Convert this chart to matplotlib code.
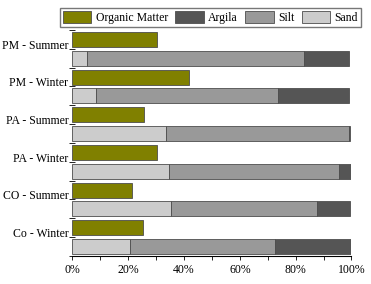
import numpy as np
import matplotlib
matplotlib.use('Agg')
from matplotlib import pyplot as plt
from matplotlib.ticker import PercentFormatter, MultipleLocator

sites = ['PM - Summer', 'PM - Winter', 'PA - Summer', 'PA - Winter', 'CO - Summer', 'Co - Winter']
organic = [30.2, 41.6, 25.7, 30.2, 21.2, 25.4]
sand = [5.1, 8.5, 33.6, 34.5, 35.4, 20.7]
silt = [77.9, 65.3, 65.6, 61.1, 52.3, 52.0]
argila = [16.1, 25.3, 0.4, 4.1, 11.6, 27.3]

plt.rcParams['font.family'] = ['Liberation Serif', 'DejaVu Serif']
plt.rcParams['font.size'] = 8.5

fig = plt.figure(figsize=(3.71, 2.84), dpi=100)
ax = fig.add_axes([0.1954, 0.0986, 0.752, 0.7958])

n = len(sites)
om_y = np.arange(n) * 2 + 0.5
soil_y = om_y + 1
edge = '#4d4d4d'
h = 0.8

ax.barh(om_y, organic, height=h, color='#808000', edgecolor=edge, linewidth=0.6, label='Organic Matter')
ax.barh(soil_y, sand, height=h, color='#cccccc', edgecolor=edge, linewidth=0.6, label='Sand')
left = np.array(sand)
ax.barh(soil_y, silt, height=h, left=left, color='#999999', edgecolor=edge, linewidth=0.6, label='Silt')
left = left + np.array(silt)
ax.barh(soil_y, argila, height=h, left=left, color='#555555', edgecolor=edge, linewidth=0.6, label='Argila')

ax.set_ylim(2 * n, 0)
ax.set_xlim(0, 100)

ax.set_yticks(np.arange(0, 2 * n + 1))
labels = [''] * (2 * n + 1)
for i, s in enumerate(sites):
    labels[2 * i + 1] = s
ax.set_yticklabels(labels, va='baseline')
ax.tick_params(axis='y', direction='inout', length=4, width=0.6, pad=1)

ax.xaxis.set_major_locator(MultipleLocator(20))
ax.xaxis.set_minor_locator(MultipleLocator(10))
ax.xaxis.set_major_formatter(PercentFormatter(decimals=0))
ax.tick_params(axis='x', which='both', direction='out', length=3, width=0.6, pad=3)

for sp in ['top', 'right', 'left']:
    ax.spines[sp].set_visible(False)
ax.spines['bottom'].set_linewidth(0.8)

handles, lbls = ax.get_legend_handles_labels()
order = [0, 3, 2, 1]
fig.legend([handles[i] for i in order], [lbls[i] for i in order],
           loc='upper left', bbox_to_anchor=(0.162, 0.972), ncol=4,
           frameon=True, fancybox=False, edgecolor='#555555', borderpad=0.25,
           handlelength=2.4, handleheight=1.15, handletextpad=0.35, columnspacing=0.65,
           borderaxespad=0)

plt.savefig('out.png', dpi=100)
